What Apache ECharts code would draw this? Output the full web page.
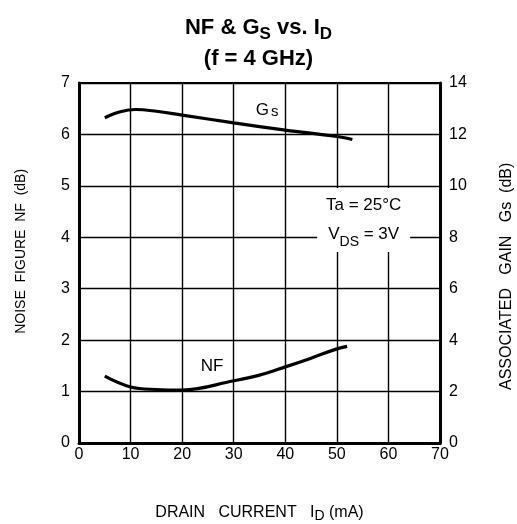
<!DOCTYPE html>
<html>
<head>
<meta charset="utf-8">
<script src="https://cdn.jsdelivr.net/npm/echarts@6/dist/echarts.min.js"></script>
<style>
html,body{margin:0;padding:0;background:#fff;}
#chart{width:517px;height:524px;}
</style>
</head>
<body>
<div id="chart"></div>
<script>
// Drain current (mA) and noise figure (dB)
var currentNF = [5, 10, 15, 20, 30, 35, 40, 45, 50, 52];
var noiseFigure = [1.30, 1.09, 1.04, 1.03, 1.21, 1.32, 1.48, 1.65, 1.83, 1.88];
// Drain current (mA) and associated gain (dB)
var currentGs = [5, 8, 11, 15, 20, 30, 40, 50, 53];
var assocGain = [12.65, 12.88, 12.97, 12.9, 12.75, 12.45, 12.17, 11.92, 11.8];

var xTicks = [0, 10, 20, 30, 40, 50, 60, 70];
var nfTicks = [0, 1, 2, 3, 4, 5, 6, 7];
var gsTicks = [0, 2, 4, 6, 8, 10, 12, 14];

var FONT = '"Liberation Sans", Arial, sans-serif';

function pairs(xs, ys) {
  return xs.map(function (x, i) { return [x, ys[i]]; });
}

var chart = echarts.init(document.getElementById('chart'));
var option = {
  backgroundColor: '#fff',
  animation: false,
  title: {
    text: '{a|NF & G}{s|S}{a| vs. I}{s|D}\n{a|(f = 4 GHz)}',
    left: 'center',
    top: 7,
    textStyle: {
      rich: {
        a: { fontFamily: FONT, fontWeight: 'bold', fontSize: 22, color: '#000', lineHeight: 31, verticalAlign: 'middle' },
        s: { fontFamily: FONT, fontWeight: 'bold', fontSize: 17, color: '#000', lineHeight: 9, verticalAlign: 'bottom' }
      }
    }
  },
  grid: { left: 79, right: 77, top: 83, bottom: 81, show: true, borderColor: '#000', borderWidth: 2, outerBoundsMode: 'none', containLabel: false },
  xAxis: {
    type: 'value',
    min: xTicks[0], max: xTicks[xTicks.length - 1], interval: 10,
    name: '{t|DRAIN   CURRENT   I}{s|D}{t| (mA)}',
    nameLocation: 'middle',
    nameGap: 60,
    nameTextStyle: {
      rich: {
        t: { fontFamily: FONT, fontSize: 16, color: '#000', lineHeight: 20, verticalAlign: 'middle' },
        s: { fontFamily: FONT, fontSize: 14, color: '#000', lineHeight: 7, verticalAlign: 'bottom' }
      }
    },
    axisLine: { lineStyle: { color: '#000', width: 3 } },
    axisTick: { show: false },
    axisLabel: { color: '#000', fontFamily: FONT, fontSize: 16, margin: 4 },
    splitLine: { show: true, lineStyle: { color: '#000', width: 1.4 } }
  },
  yAxis: [
    {
      type: 'value',
      min: nfTicks[0], max: nfTicks[nfTicks.length - 1], interval: 1,
      name: '      NOISE  FIGURE  NF  (dB)',
      nameLocation: 'middle',
      nameGap: 51,
      nameTextStyle: { fontFamily: FONT, fontSize: 14, color: '#000' },
      axisLine: { show: true, lineStyle: { color: '#000', width: 3 } },
      axisTick: { show: false },
      axisLabel: { color: '#000', fontFamily: FONT, fontSize: 16, margin: 9 },
      splitLine: { show: true, lineStyle: { color: '#000', width: 1.4 } }
    },
    {
      type: 'value',
      min: gsTicks[0], max: gsTicks[gsTicks.length - 1], interval: 2,
      position: 'right',
      name: '{t|ASSOCIATED   GAIN   G}{s|s}{t|  (dB)}{t|      }',
      nameLocation: 'middle',
      nameGap: 57,
      nameRotate: 90,
      nameTextStyle: {
        rich: {
          t: { fontFamily: FONT, fontSize: 16, color: '#000', lineHeight: 20, verticalAlign: 'middle' },
          s: { fontFamily: FONT, fontSize: 16, color: '#000', lineHeight: 20, verticalAlign: 'middle' }
        }
      },
      axisLine: { show: true, lineStyle: { color: '#000', width: 3 } },
      axisTick: { show: false },
      axisLabel: { color: '#000', fontFamily: FONT, fontSize: 16, margin: 9 },
      splitLine: { show: false }
    }
  ],
  series: [
    {
      name: 'NF',
      type: 'line',
      yAxisIndex: 0,
      smooth: 0.4,
      symbol: 'none',
      data: pairs(currentNF, noiseFigure),
      lineStyle: { color: '#000', width: 3.2 },
      z: 5,
      markPoint: {
        symbol: 'rect',
        symbolSize: 0.001,
        itemStyle: { color: 'transparent' },
        label: { show: true, formatter: 'NF', color: '#000', fontFamily: FONT, fontSize: 17 },
        data: [{ coord: [25.8, 1.49] }]
      }
    },
    {
      name: 'Gs',
      type: 'line',
      yAxisIndex: 1,
      smooth: 0.4,
      symbol: 'none',
      data: pairs(currentGs, assocGain),
      lineStyle: { color: '#000', width: 3.2 },
      z: 5,
      markPoint: {
        symbol: 'rect',
        data: [
          {
            coord: [36.5, 12.95],
            symbolSize: 0.001,
            itemStyle: { color: 'transparent' },
            label: { show: true, formatter: '{g|G}{s|s}', rich: {
              g: { fontFamily: FONT, fontSize: 17, color: '#000' },
              s: { fontFamily: FONT, fontSize: 15, color: '#000', padding: [3, 0, 0, 2] }
            } }
          },
          {
            coord: [55.2, 8.67],
            symbolSize: [93, 64],
            itemStyle: { color: '#fff' },
            label: {
              show: true,
              formatter: '{t|Ta = 25°C}\n{t|V}{s|DS}{t| = 3V}',
              rich: {
                t: { fontFamily: FONT, fontSize: 17, color: '#000', lineHeight: 29, verticalAlign: 'middle' },
                s: { fontFamily: FONT, fontSize: 14, color: '#000', lineHeight: 20, verticalAlign: 'bottom' }
              }
            }
          }
        ]
      }
    }
  ]
};
chart.setOption(option);
</script>
</body>
</html>
